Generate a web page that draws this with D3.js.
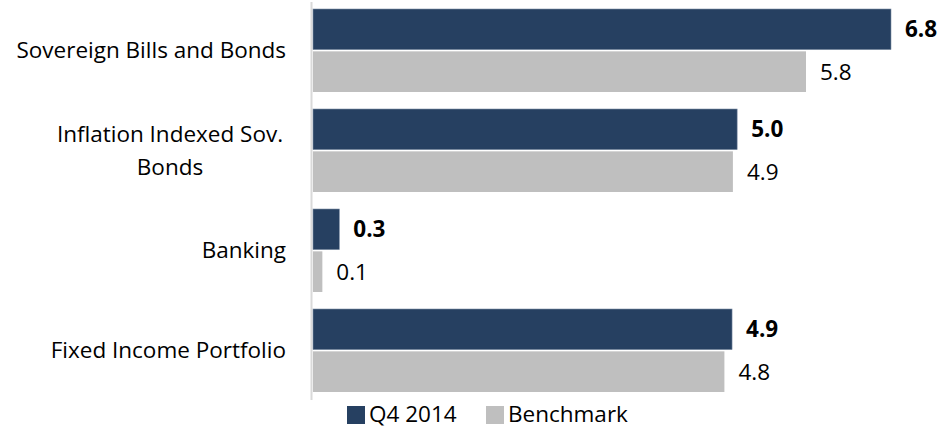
<!DOCTYPE html>
<html><head><meta charset="utf-8">
<script src="https://cdn.jsdelivr.net/npm/d3@7"></script>
<style>
html,body{margin:0;padding:0;background:#fff;}
svg{display:block;}
text{font-family:"Open Sans", sans-serif;fill:#000;}
</style></head>
<body>
<svg id="chart" width="948" height="428"></svg>
<script>
const categories = [["Sovereign Bills and Bonds"], ["Inflation Indexed Sov.", "Bonds"], ["Banking"], ["Fixed Income Portfolio"]];
const categoryKeys = ["Sovereign Bills and Bonds", "Inflation Indexed Sov. Bonds", "Banking", "Fixed Income Portfolio"];
const seriesNames = ["Q4 2014", "Benchmark"];
const q4Values = [6.8, 4.99, 0.31, 4.93];
const benchmarkValues = [5.8, 4.94, 0.11, 4.84];
const colors = ["#264061", "#BFBFBF"];

const svg = d3.select("#chart");
const x0 = 313;
const x = d3.scaleLinear().domain([0, 6.8]).range([x0, 891]);
const y = d3.scaleBand().domain(categoryKeys).range([0.5, 400.5]).paddingInner(0.17).paddingOuter(0.085);
const ySub = d3.scaleBand().domain(seriesNames).range([0, y.bandwidth()]).paddingInner(0.04);

const data = categoryKeys.map((k, i) => ({key: k, lines: categories[i], vals: [q4Values[i], benchmarkValues[i]]}));
const FS = 22.5;

// axis line
svg.append("line").attr("x1", 311.5).attr("x2", 311.5).attr("y1", 2).attr("y2", 400)
  .attr("stroke", "#D9D9D9").attr("stroke-width", 2);

const g = svg.selectAll("g.cat").data(data).join("g").attr("class", "cat")
  .attr("transform", d => `translate(0,${y(d.key)})`);

g.selectAll("rect").data(d => d.vals.map((v, j) => ({v, s: seriesNames[j], j})))
  .join("rect")
  .attr("x", x(0))
  .attr("y", d => ySub(d.s))
  .attr("width", d => x(d.v) - x(0))
  .attr("height", ySub.bandwidth())
  .attr("fill", d => colors[d.j])
  .attr("stroke", d => d.j === 0 ? "#7F8FA6" : "none")
  .attr("stroke-width", 0.6);

g.selectAll("text.val").data(d => d.vals.map((v, j) => ({v, s: seriesNames[j], j})))
  .join("text").attr("class", "val")
  .attr("x", d => x(d.v) + 14)
  .attr("y", d => ySub(d.s) + ySub.bandwidth() / 2)
  .attr("dy", "0.35em")
  .attr("font-size", FS)
  .attr("font-weight", d => d.j === 0 ? "bold" : "normal")
  .text(d => d3.format(".1f")(d.v));

g.append("text").attr("class", "cat-label")
  .attr("text-anchor", "end")
  .attr("font-size", FS)
  .attr("x", 286)
  .each(function(d) {
    const t = d3.select(this);
    const n = d.lines.length;
    const lh = 33;
    const cy = y.bandwidth() / 2;
    d.lines.forEach((ln, i) => {
      t.append("tspan").attr("x", 286)
        .attr("y", cy + (i - (n - 1) / 2) * lh)
        .attr("dy", "0.35em")
        .text(ln);
    });
  })
  .filter(d => d.lines.length > 1)
  .attr("text-anchor", "middle")
  .selectAll("tspan").attr("x", 170);

// legend
const legend = svg.append("g").attr("transform", "translate(347,406)");
const legendX = [0, 139];
const li = legend.selectAll("g").data(seriesNames).join("g")
  .attr("transform", (d, i) => `translate(${legendX[i]},0)`);
li.append("rect").attr("width", 18).attr("height", 18).attr("fill", (d, i) => colors[i]);
li.append("text").attr("x", 22).attr("y", 8.5).attr("dy", "0.33em").attr("font-size", FS).text(d => d);
</script>
</body></html>
